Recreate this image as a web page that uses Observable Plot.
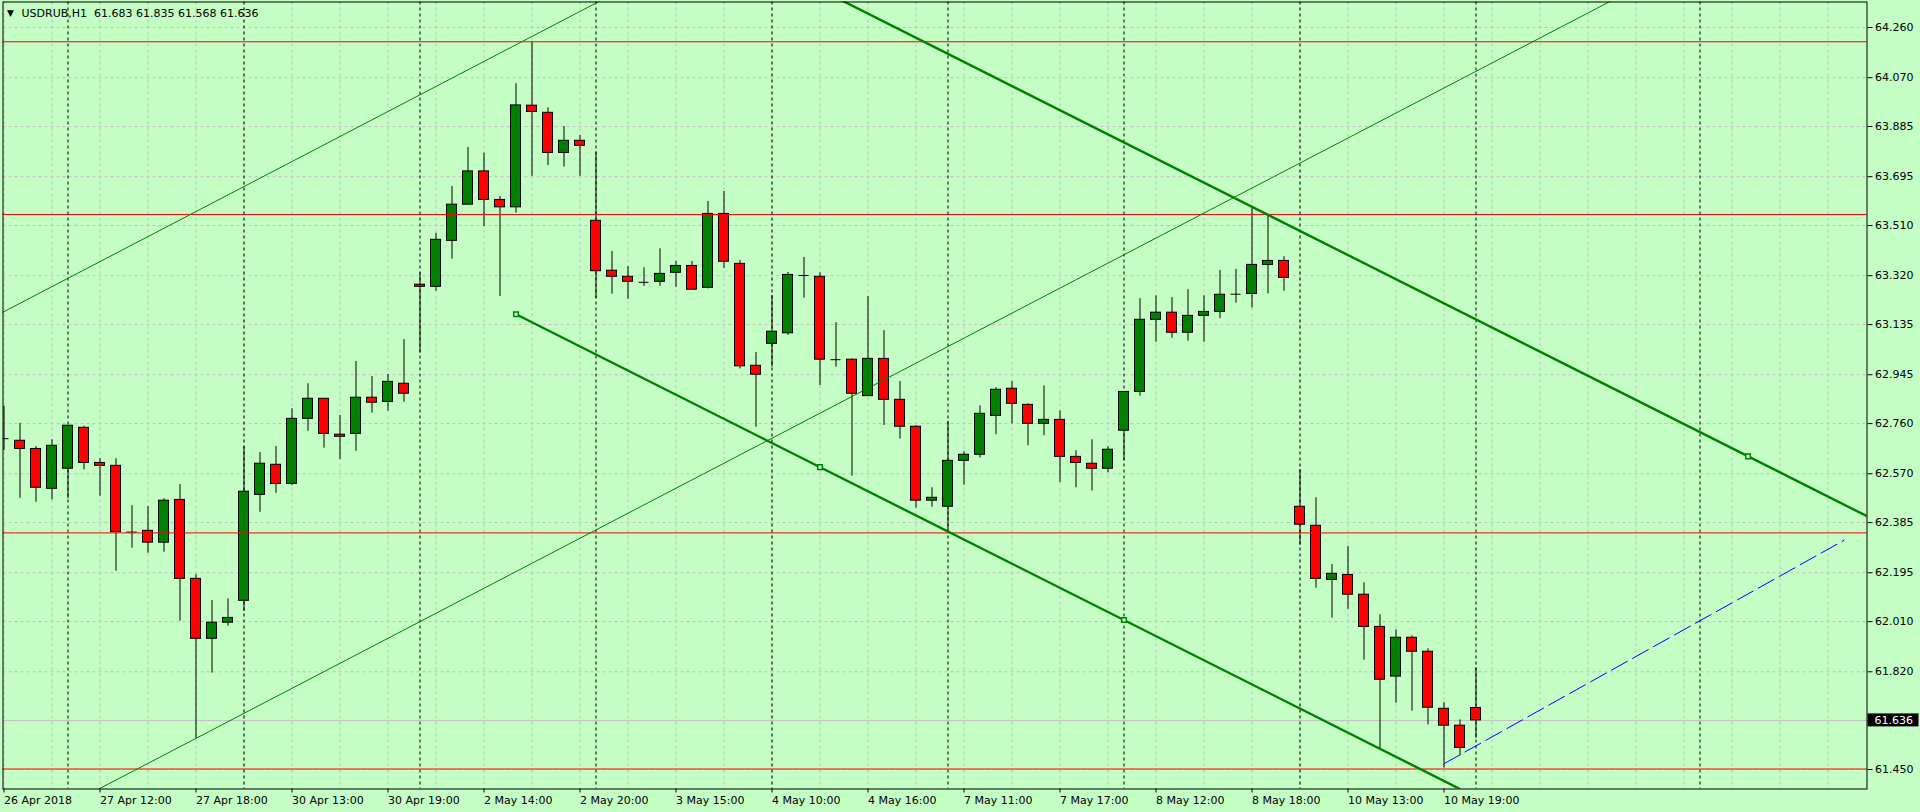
<!DOCTYPE html>
<html><head><meta charset="utf-8">
<script src="https://cdn.jsdelivr.net/npm/d3@7"></script>
<script src="https://cdn.jsdelivr.net/npm/@observablehq/plot@0.6"></script>
<style>
html,body{margin:0;padding:0;background:#c5fec5;}
#chart{width:1920px;height:812px;overflow:hidden;}
</style></head><body><div id="chart"></div>
<script>
// ---- data (USDRUB, H1) ----
const symbolTitle = "USDRUB,H1";
const titleQuote = ["61.683", "61.835", "61.568", "61.636"];

const opens  = [62.703,62.695,62.664,62.513,62.589,62.744,62.611,62.600,62.349,62.354,62.309,62.471,62.172,61.945,62.006,62.089,62.490,62.604,62.532,62.778,62.854,62.718,62.721,62.858,62.842,62.911,63.286,63.278,63.452,63.589,63.715,63.607,63.579,63.964,63.937,63.785,63.831,63.528,63.339,63.316,63.295,63.297,63.331,63.357,63.274,63.554,63.365,62.979,63.062,63.102,63.321,63.316,63.002,63.002,62.864,63.005,62.850,62.748,62.468,62.445,62.619,62.642,62.789,62.892,62.831,62.759,62.774,62.634,62.608,62.589,62.733,62.880,63.153,63.180,63.104,63.168,63.183,63.250,63.251,63.361,63.376,62.445,62.373,62.168,62.187,62.112,61.990,61.802,61.949,61.896,61.680,61.616,61.683];
const highs  = [62.825,62.761,62.673,62.699,62.753,62.750,62.627,62.627,62.449,62.446,62.475,62.529,62.188,62.090,62.096,62.673,62.650,62.673,62.816,62.911,62.855,62.791,62.995,62.938,62.946,63.078,63.331,63.481,63.658,63.806,63.784,63.620,64.047,64.204,63.956,63.885,63.851,63.788,63.412,63.355,63.350,63.422,63.374,63.374,63.601,63.639,63.378,63.029,63.245,63.332,63.389,63.331,63.142,63.005,63.241,63.112,62.919,62.752,62.517,62.769,62.653,62.827,62.896,62.919,62.835,62.903,62.808,62.657,62.699,62.672,62.881,63.233,63.244,63.237,63.267,63.244,63.340,63.344,63.579,63.551,63.392,62.585,62.479,62.226,62.295,62.157,62.036,61.979,61.956,61.907,61.703,61.638,61.835];
const lows   = [62.658,62.477,62.462,62.471,62.475,62.585,62.485,62.201,62.288,62.269,62.273,62.012,61.566,61.815,61.993,62.049,62.424,62.496,62.525,62.731,62.667,62.624,62.655,62.800,62.807,62.841,63.028,63.261,63.383,63.589,63.506,63.241,63.557,63.696,63.737,63.731,63.696,63.233,63.250,63.231,63.280,63.280,63.276,63.267,63.270,63.348,62.967,62.746,62.974,63.094,63.235,62.904,62.974,62.561,62.864,62.753,62.701,62.440,62.443,62.349,62.527,62.630,62.718,62.759,62.676,62.714,62.537,62.517,62.505,62.574,62.619,62.864,63.068,63.083,63.072,63.068,63.157,63.216,63.198,63.251,63.261,62.300,62.137,62.023,62.057,61.864,61.528,61.701,61.671,61.619,61.455,61.502,61.568];
const closes = [62.703,62.664,62.517,62.676,62.752,62.611,62.600,62.349,62.349,62.309,62.468,62.172,61.945,62.006,62.024,62.502,62.608,62.531,62.778,62.854,62.721,62.710,62.858,62.839,62.918,62.873,63.278,63.456,63.589,63.715,63.607,63.579,63.965,63.940,63.785,63.831,63.812,63.337,63.316,63.297,63.295,63.327,63.357,63.267,63.554,63.373,62.977,62.945,63.108,63.323,63.321,63.002,63.002,62.873,63.005,62.850,62.748,62.468,62.479,62.619,62.642,62.797,62.888,62.835,62.759,62.774,62.634,62.611,62.589,62.661,62.880,63.153,63.180,63.104,63.168,63.183,63.248,63.250,63.361,63.376,63.312,62.377,62.172,62.191,62.112,61.990,61.790,61.949,61.896,61.684,61.616,61.532,61.636];

// bar index of first bar of each trading day (period separators)
const dayStarts = [4, 15, 26, 37, 48, 59, 70, 81, 92, 106];
const xTickBars = [0, 6, 12, 18, 24, 30, 36, 42, 48, 54, 60, 66, 72, 78, 84, 90];
const xTickLabels = ["26 Apr 2018","27 Apr 12:00","27 Apr 18:00","30 Apr 13:00","30 Apr 19:00","2 May 14:00","2 May 20:00","3 May 15:00","4 May 10:00","4 May 16:00","7 May 11:00","7 May 17:00","8 May 12:00","8 May 18:00","10 May 13:00","10 May 19:00"];
const yTickLabels = ["64.260","64.070","63.885","63.695","63.510","63.320","63.135","62.945","62.760","62.570","62.385","62.195","62.010","61.820","61.635","61.450"];

const redLevels = [64.206, 63.552, 62.346, 61.452];
const bidPrice = 61.636;

// trend lines: anchor points (bar index, price)
const thinChannel = [
  {id: "a", i1: 0,  p1: 63.184, i2: 36, p2: 64.321},
  {id: "b", i1: 45, p1: 62.610, i2: 78, p2: 63.652}
];
const thickChannel = [
  {id: "c", i1: 78, p1: 63.581, i2: 109, p2: 62.636, extendLeft: true},
  {id: "d", i1: 32, p1: 63.174, i2: 70,  p2: 62.016, extendLeft: false}
];
const trendMarkers = [
  {i: 32, p: 63.174}, {i: 51, p: 62.595}, {i: 70, p: 62.016}, {i: 109, p: 62.636}
];
const blueSegment = [{i: 90, p: 61.472}, {i: 115, p: 62.318}];

// ---- build ----
const BG = "#c5fec5";
const GRID = "#c2bcc4";
const xDomain = [-0.0625, 116.4375];
const yDomain = [61.3762, 64.3566];

const bars = opens.map((o, i) => ({i, open: o, high: highs[i], low: lows[i], close: closes[i]}));
const bodies = bars.filter(d => d.open !== d.close);
const dojis = bars.filter(d => d.open === d.close);
const yTicks = yTickLabels.map(Number);
const labelMap = new Map(xTickBars.map((b, k) => [b, xTickLabels[k]]));
const gridCols = d3.range(0, 117, 3);
const half = 5 / 16;

function extend(l) {
  const s = (l.p2 - l.p1) / (l.i2 - l.i1);
  const a = l.extendLeft === false ? l.i1 : xDomain[0] - 2;
  const b = xDomain[1] + 2;
  return [{id: l.id, i: a, p: l.p1 + (a - l.i1) * s}, {id: l.id, i: b, p: l.p1 + (b - l.i1) * s}];
}
const thinPts = thinChannel.flatMap(extend);
const thickPts = thickChannel.flatMap(extend);

const titleText = symbolTitle + "\u00a0\u00a0" + titleQuote.join(" ");

const chart = Plot.plot({
  width: 1920, height: 812,
  marginLeft: 2.5, marginRight: 53.5, marginTop: 1.5, marginBottom: 23.5,
  x: {domain: xDomain},
  y: {domain: yDomain},
  style: {background: BG, fontFamily: "DejaVu Sans", fontSize: "11px", color: "black", overflow: "visible"},
  marks: [
    Plot.ruleY(yTicks, {stroke: GRID, strokeDasharray: "3,3"}),
    Plot.ruleX(gridCols, {stroke: GRID, strokeDasharray: "3,3"}),
    Plot.ruleX(dayStarts, {stroke: "black", strokeDasharray: "3,3"}),
    Plot.ruleY([bidPrice], {stroke: "#c0c0c0"}),
    Plot.ruleX(bars, {x: "i", y1: "low", y2: "high", stroke: "black", clip: true}),
    Plot.rect(bodies, {x1: d => d.i - half, x2: d => d.i + half, y1: "open", y2: "close",
      fill: d => d.close > d.open ? "#008000" : "#ff0000", stroke: "black", clip: true}),
    Plot.ruleY(dojis, {y: "open", x1: d => d.i - half, x2: d => d.i + half, stroke: "black", clip: true}),
    Plot.ruleY(redLevels, {stroke: "#ff0000"}),
    Plot.line(thinPts, {x: "i", y: "p", z: "id", stroke: "#008000", strokeWidth: 1, clip: true}),
    Plot.line(thickPts, {x: "i", y: "p", z: "id", stroke: "#008000", strokeWidth: 2.4, clip: true}),
    Plot.line(blueSegment, {x: "i", y: "p", stroke: "#0000ff", strokeWidth: 1, strokeDasharray: "18,6", clip: true}),
    Plot.dot(trendMarkers, {x: "i", y: "p", symbol: "square", r: 2.6, stroke: "#008000", strokeWidth: 1.5, fill: BG}),
    Plot.frame({stroke: "black"}),
    Plot.axisX(xTickBars, {anchor: "bottom", tickSize: 4, tickPadding: 3, tickFormat: d => labelMap.get(d),
      textAnchor: "start", dx: 0, label: null, fontSize: 11}),
    Plot.axisY(yTicks, {anchor: "right", tickSize: 5, tickPadding: 3, tickFormat: d3.format(".3f"),
      label: null, fontSize: 11}),
    Plot.text(["\u25BC"], {frameAnchor: "top-left", dx: 4, dy: 11, lineAnchor: "middle", textAnchor: "start", fontSize: 9}),
    Plot.text([titleText], {frameAnchor: "top-left", dx: 18.5, dy: 11, lineAnchor: "middle", textAnchor: "start", fontSize: 11})
  ]
});

// current bid label box on the price axis
const yScale = chart.scale("y");
const by = yScale.apply(bidPrice);
const svg = d3.select(chart);
svg.append("rect").attr("x", 1867.5).attr("y", by - 6.5).attr("width", 51).attr("height", 13).attr("fill", "black");
svg.append("text").attr("x", 1874.5).attr("y", by).attr("dy", "0.35em").attr("fill", "white")
  .attr("text-anchor", "start")
  .attr("font-family", "DejaVu Sans").attr("font-size", 11).text(d3.format(".3f")(bidPrice));

document.getElementById("chart").appendChild(chart);
</script>
</body></html>
